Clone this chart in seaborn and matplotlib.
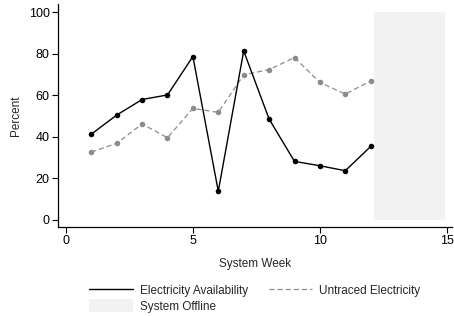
import seaborn as sns
import pandas as pd
import matplotlib.pyplot as plt
from matplotlib.patches import Patch
from matplotlib.lines import Line2D

sns.set_style('ticks')
plt.rcParams['font.family'] = ['Liberation Sans', 'DejaVu Sans']

weeks = list(range(1, 13))
electricity = [41.3, 50.5, 58.0, 60.2, 78.7, 13.8, 81.4, 48.6, 28.2, 26.1, 23.7, 35.4]
untraced = [32.7, 36.9, 46.2, 39.6, 53.7, 51.8, 69.9, 72.4, 78.2, 66.2, 60.6, 67.0]
offline_start, offline_end = 12.13, 14.92

df = pd.DataFrame({'week': weeks, 'electricity': electricity, 'untraced': untraced})

fig = plt.figure(figsize=(4.54, 3.16), dpi=100)
ax = fig.add_axes([58 / 454, 89 / 316, 394 / 454, 223 / 316])

ax.axvspan(offline_start, offline_end, ymin=(0 + 3.4) / 107.4, ymax=(100 + 3.4) / 107.4,
           color='#f2f2f2', lw=0, zorder=0)
sns.lineplot(data=df, x='week', y='untraced', ax=ax, color='#8c8c8c', lw=0.9,
             linestyle=(0, (4, 2.5)), marker='o', markersize=4, markeredgewidth=0)
sns.lineplot(data=df, x='week', y='electricity', ax=ax, color='black', lw=1.0,
             marker='o', markersize=4, markeredgewidth=0)

ax.set_xlim(-0.31, 15.2)
ax.set_ylim(-3.4, 104)
ax.set_xticks([0, 5, 10, 15])
ax.set_yticks([0, 20, 40, 60, 80, 100])
ax.tick_params(labelsize=9, length=4, width=0.8, pad=2, colors='black')
ax.set_xlabel('System Week', fontsize=8.5, labelpad=8)
ax.set_ylabel('Percent', fontsize=8.5, labelpad=5)
for s in ['top', 'right']:
    ax.spines[s].set_visible(False)
for s in ['left', 'bottom']:
    ax.spines[s].set_linewidth(0.9)
    ax.spines[s].set_color('black')

handles = [
    Line2D([], [], color='black', lw=1.0),
    Patch(facecolor='#f2f2f2', edgecolor='none'),
    Line2D([], [], color='#8c8c8c', lw=0.9, linestyle=(0, (4, 2.5))),
]
labels = ['Electricity Availability', 'System Offline', 'Untraced Electricity']
fig.legend(handles, labels, ncol=2, frameon=False, fontsize=8.5,
           loc='upper left', bbox_to_anchor=(89 / 454, 1 - 284 / 316),
           handlelength=3.7, handleheight=1.3, labelspacing=0.15, columnspacing=1.75,
           handletextpad=0.6, borderpad=0, borderaxespad=0)

fig.savefig('out.png', dpi=100)
